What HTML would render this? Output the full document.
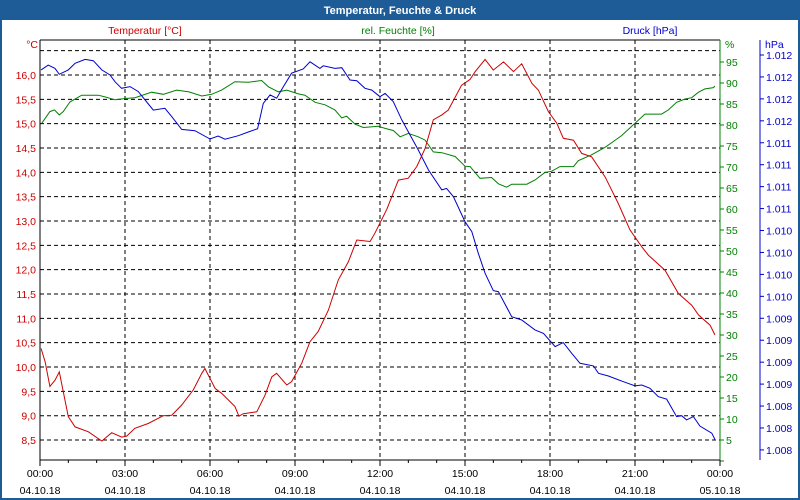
<!DOCTYPE html>
<html><head><meta charset="utf-8"><style>
html,body{margin:0;padding:0;background:#fff;}
#wrap{position:relative;width:800px;height:500px;overflow:hidden;font-family:"Liberation Sans",sans-serif;}
svg text{font-family:"Liberation Sans",sans-serif;font-size:10.5px;}
</style></head><body>
<div id="wrap">
<svg id="chart" width="800" height="500" viewBox="0 0 800 500">
  <rect x="0" y="0" width="800" height="500" fill="#1d5c96"/>
  <rect x="2" y="20" width="796" height="478" fill="#ffffff"/>
  <text x="400" y="14" text-anchor="middle" fill="#ffffff" font-weight="bold" style="font-size:11px">Temperatur, Feuchte &amp; Druck</text>
  <text x="145" y="34" text-anchor="middle" fill="#cc0000">Temperatur [°C]</text>
  <text x="398" y="34" text-anchor="middle" fill="#008000">rel. Feuchte [%]</text>
  <text x="650" y="34" text-anchor="middle" fill="#0000cc">Druck [hPa]</text>
  <text x="38" y="48" text-anchor="end" fill="#cc0000">°C</text>
  <text x="725" y="48" fill="#008000">%</text>
  <text x="765" y="48" fill="#0000cc">hPa</text>
  <g id="grid"></g>
  <g id="axes"></g>
  <g id="series"></g>
</svg>
</div>
<script>
const hours = [0,3,6,9,12,15,18,21,24];
const timeLabels = ["00:00","03:00","06:00","09:00","12:00","15:00","18:00","21:00","00:00"];
const dateLabels = ["04.10.18","04.10.18","04.10.18","04.10.18","04.10.18","04.10.18","04.10.18","04.10.18","05.10.18"];
const tempTicks = [8.5,9.0,9.5,10.0,10.5,11.0,11.5,12.0,12.5,13.0,13.5,14.0,14.5,15.0,15.5,16.0];
const tempGrid = [8.5,9.0,9.5,10.0,10.5,11.0,11.5,12.0,12.5,13.0,13.5,14.0,14.5,15.0,15.5,16.0,16.5];
const humTicks = [0,5,10,15,20,25,30,35,40,45,50,55,60,65,70,75,80,85,90,95];
const presTicks = [1012.4,1012.3,1012.2,1012.1,1012.0,1011.9,1011.8,1011.7,1011.6,1011.5,1011.4,1011.3,1011.2,1011.1,1011.0,1010.9,1010.8,1010.7,1010.6];
const presLabels = ["1.012","1.012","1.012","1.012","1.011","1.011","1.011","1.011","1.010","1.010","1.010","1.010","1.009","1.009","1.009","1.009","1.008","1.008","1.008"];

const tempH = [0.04,0.18,0.35,0.53,0.68,1.0,1.24,1.71,2.18,2.53,2.88,3.06,3.35,3.82,4.35,4.65,5.0,5.41,5.71,5.82,6.18,6.41,6.88,7.02,7.18,7.65,7.94,8.18,8.35,8.71,8.88,9.24,9.53,9.82,10.18,10.53,10.88,11.18,11.65,11.82,12.24,12.65,13.0,13.3,13.59,13.88,14.18,14.41,14.88,15.18,15.36,15.71,16.0,16.36,16.71,17.0,17.36,17.59,17.94,18.24,18.47,18.83,19.12,19.47,19.94,20.41,20.82,21.24,21.47,22.06,22.53,23.0,23.24,23.65,23.82];
const tempV = [10.38,10.11,9.60,9.73,9.90,8.98,8.77,8.67,8.48,8.65,8.56,8.58,8.74,8.84,9.0,9.01,9.22,9.53,9.87,9.97,9.56,9.46,9.19,8.99,9.04,9.08,9.42,9.80,9.87,9.63,9.70,10.08,10.52,10.73,11.17,11.79,12.16,12.61,12.58,12.75,13.24,13.84,13.88,14.12,14.49,15.08,15.18,15.28,15.79,15.91,16.07,16.32,16.10,16.27,16.07,16.23,15.83,15.69,15.25,15.01,14.70,14.66,14.39,14.32,13.91,13.36,12.82,12.47,12.30,11.99,11.51,11.27,11.07,10.86,10.66];

const humH = [0.06,0.35,0.51,0.68,0.82,1.06,1.47,2.06,2.29,2.65,3.0,3.35,3.94,4.35,4.82,5.24,5.71,6.06,6.41,6.88,7.35,7.82,8.06,8.41,8.71,9.12,9.35,9.71,10.06,10.41,10.65,10.82,11.12,11.41,11.94,12.18,12.47,12.71,13.0,13.35,13.59,13.88,14.18,14.65,15.0,15.18,15.53,15.94,16.18,16.47,16.65,17.18,17.47,17.82,18.06,18.35,18.83,19.0,19.47,19.94,20.18,20.53,21.0,21.35,21.94,22.18,22.47,22.77,23.0,23.24,23.47,23.77,23.82];
const humV = [80.4,83.2,83.6,82.4,83.2,85.5,87.1,87.1,86.7,86.0,86.3,86.5,87.8,87.3,88.3,87.9,86.9,87.3,88.3,90.3,90.2,90.6,89.1,87.9,88.3,87.4,87.1,85.4,84.8,83.6,81.7,82.1,80.2,79.4,79.7,79.2,78.7,77.2,78.0,77.2,76.4,73.6,73.4,72.5,70.2,70.1,67.3,67.5,66.0,65.2,65.9,65.9,66.9,68.7,69.0,70.1,70.1,71.5,72.9,74.7,75.8,77.5,80.4,82.6,82.6,83.6,85.4,86.2,86.5,87.8,88.6,88.9,89.3];

const presH = [0.04,0.29,0.53,0.68,1.0,1.24,1.59,1.88,2.18,2.47,2.65,2.88,3.18,3.47,3.71,4.0,4.41,4.65,5.0,5.47,6.0,6.29,6.53,7.0,7.35,7.68,7.88,8.12,8.35,8.59,8.88,9.29,9.53,9.88,10.0,10.41,10.65,10.94,11.18,11.47,11.71,12.0,12.18,12.47,12.77,13.0,13.35,13.71,14.18,14.35,14.59,15.0,15.24,15.47,15.71,16.0,16.18,16.65,17.0,17.47,17.77,18.18,18.47,18.77,19.06,19.53,19.71,20.06,20.59,21.0,21.24,21.53,21.82,22.12,22.47,22.65,22.82,23.06,23.29,23.71,23.82];
const presV = [1012.332,1012.354,1012.339,1012.312,1012.332,1012.362,1012.380,1012.374,1012.332,1012.309,1012.278,1012.248,1012.256,1012.233,1012.195,1012.149,1012.157,1012.119,1012.061,1012.055,1012.017,1012.031,1012.016,1012.032,1012.049,1012.064,1012.180,1012.218,1012.203,1012.256,1012.317,1012.336,1012.369,1012.339,1012.351,1012.339,1012.342,1012.286,1012.283,1012.248,1012.240,1012.210,1012.225,1012.187,1012.104,1012.050,1011.967,1011.876,1011.785,1011.792,1011.754,1011.640,1011.595,1011.496,1011.405,1011.326,1011.321,1011.207,1011.192,1011.147,1011.131,1011.071,1011.089,1011.040,1010.995,1010.983,1010.949,1010.937,1010.911,1010.892,1010.896,1010.881,1010.843,1010.831,1010.752,1010.756,1010.737,1010.752,1010.709,1010.676,1010.648];

const L=40,R=720,T=40,B=460;
const xS=h=>L+h*(R-L)/24;
const yT=v=>75+(16-v)*48.67;
const yH=v=>461-v*4.2;
const yP=v=>55+(1012.4-v)*219.4;
const NS="http://www.w3.org/2000/svg";
function mk(tag,attrs,parent,txt){const e=document.createElementNS(NS,tag);for(const k in attrs)e.setAttribute(k,attrs[k]);if(txt!==undefined)e.textContent=txt;parent.appendChild(e);return e;}
const grid=document.getElementById('grid'),axes=document.getElementById('axes'),series=document.getElementById('series');

tempGrid.forEach(v=>{const y=yT(v);
 const l=mk('line',{x1:L,x2:R,y1:y,y2:y,stroke:'#000','stroke-width':1,'stroke-dasharray':'4,3'},grid);
 
 });
hours.slice(1,-1).forEach(h=>{const x=xS(h);
 const l=mk('line',{x1:x,x2:x,y1:T,y2:B,stroke:'#000','stroke-width':1,'stroke-dasharray':'4,3'},grid);
 
 });

const la=mk('line',{x1:L,x2:L,y1:T,y2:B+1,stroke:'#000'},axes);


const ta=mk('line',{x1:L,x2:R,y1:T,y2:T,stroke:'#000'},axes);


const ba=mk('line',{x1:L,x2:R,y1:B,y2:B,stroke:'#000'},axes);


const ha=mk('line',{x1:R,x2:R,y1:T,y2:B,stroke:'#008000'},axes);


const pa=mk('line',{x1:760,x2:760,y1:T,y2:B,stroke:'#0000cc'},axes);



tempTicks.forEach(v=>{
 const t=mk('text',{x:36,y:yT(v)+4,'text-anchor':'end',fill:'#cc0000'},axes,v.toFixed(1).replace('.',','));
 
 });
humTicks.forEach(v=>{const y=yH(v);
 mk('line',{x1:R,x2:R+4,y1:y,y2:y,stroke:'#008000'},axes);
 if(v>0){const t=mk('text',{x:726,y:y+4,fill:'#008000'},axes,String(v));
 
 }});
presTicks.forEach((v,i)=>{const y=yP(v);
 mk('line',{x1:760,x2:764,y1:y,y2:y,stroke:'#0000cc'},axes);
 const t=mk('text',{x:766,y:y+4,fill:'#0000cc'},axes,presLabels[i]);
 
 });
for(let h=0;h<=24;h++){const x=xS(h);mk('line',{x1:x,x2:x,y1:B,y2:B+(h%3===0?6:3),stroke:'#000'},axes);}
hours.forEach((h,i)=>{const x=xS(h);
 const t1=mk('text',{x:x,y:477,'text-anchor':'middle',fill:'#000'},axes,timeLabels[i]);
 
 
 const t2=mk('text',{x:x,y:494,'text-anchor':'middle',fill:'#000'},axes,dateLabels[i]);
 
 });

function line(hs,vs,ys,color,name){
 const pts=hs.map((h,i)=>xS(h).toFixed(1)+','+ys(vs[i]).toFixed(1)).join(' ');
 const p=mk('polyline',{points:pts,fill:'none',stroke:color,'stroke-width':1},series);
 
 }
line(humH,humV,yH,'#008000','humidity-line');
line(presH,presV,yP,'#0000cc','pressure-line');
line(tempH,tempV,yT,'#cc0000','temperature-line');
</script>
</body></html>
